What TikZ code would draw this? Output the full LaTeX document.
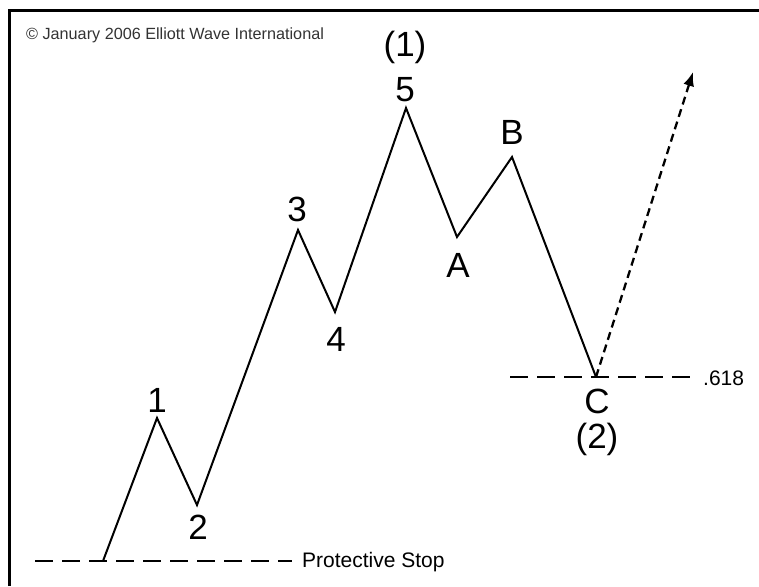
\documentclass[tikz,border=0pt]{standalone}
\usepackage{fontspec}
\setmainfont{Liberation Sans}
\usetikzlibrary{arrows.meta}
\begin{document}
\begin{tikzpicture}[x=1pt,y=-1pt,
  wave/.style={line width=2pt,line join=miter},
  level/.style={line width=2.5pt,dash pattern=on 18pt off 9pt},
  proj/.style={line width=2.3pt,dash pattern=on 8pt off 5pt,-{Latex[length=14pt,width=11pt]}},
  lab/.style={inner sep=0pt,font=\fontsize{35}{35}\selectfont},
  note/.style={inner sep=0pt,font=\fontsize{21}{21}\selectfont,anchor=base west},
  frame/.style={line width=3pt}]
\useasboundingbox (0,0) rectangle (759,586);
\fill[white] (0,0) rectangle (759,586);
% frame
\draw[frame] (9.5,586) -- (9.5,10.5) -- (759,10.5);
% copyright
\node[note,font=\fontsize{16.2}{17}\selectfont,text=black!80] (copy) at (26,40) {© January 2006 Elliott Wave International};
% wave points
\coordinate (s) at (103,561);
\coordinate (w1) at (157,418);
\coordinate (w2) at (197,505);
\coordinate (w3) at (298,230);
\coordinate (w4) at (335,312);
\coordinate (w5) at (406,108);
\coordinate (wa) at (457,237);
\coordinate (wb) at (512,157);
\coordinate (wc) at (596,377);
\coordinate (tip) at (693,72);
% level lines
\coordinate (ps0) at (35,561);
\coordinate (ps1) at (292,561);
\coordinate (fl0) at (510,377);
\coordinate (fl1) at (697,377);
\draw[level] (ps0) -- (ps1);
\draw[level] (fl0) -- (fl1);
\node[note] (pstop) at (302,567) {Protective Stop};
\node[note] (fib) at (703,385) {.618};
% wave path
\draw[wave] (s) -- (w1) -- (w2) -- (w3) -- (w4) -- (w5) -- (wa) -- (wb) -- (wc);
% projection
\draw[proj] (wc) -- (tip);
% labels
\node[lab] (l1) at (157,400) {1};
\node[lab] (l2) at (198,527) {2};
\node[lab] (l3) at (297,209) {3};
\node[lab] (l4) at (336,339) {4};
\node[lab] (l5) at (405,90) {5};
\node[lab] (l1b) at (405,47) {(1)};
\node[lab] (la) at (458,265) {A};
\node[lab] (lb) at (512,132) {B};
\node[lab] (lc) at (597,401) {C};
\node[lab] (l2b) at (597,439) {(2)};
\end{tikzpicture}
\end{document}
